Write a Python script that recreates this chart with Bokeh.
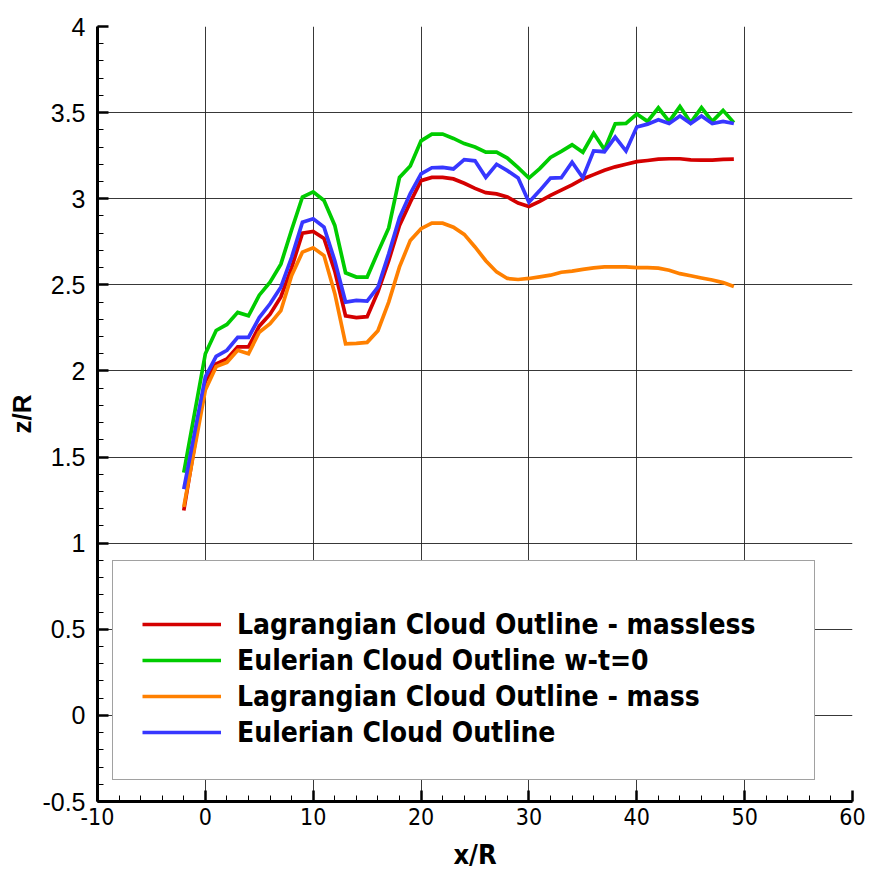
from bokeh.plotting import figure
from bokeh.models import Range1d, FixedTicker, Legend, LegendItem
from bokeh.embed import file_html
from bokeh.resources import INLINE
import numpy as np

# streamwise stations x/R
x_pos = [-2, 0, 1, 2, 3, 4, 5, 6, 7, 8, 9, 10, 11, 12, 13, 14, 15, 16, 17, 18, 19,
         20, 21, 22, 23, 24, 25, 26, 27, 28, 29, 30, 31, 32, 33, 34, 35, 36, 37, 38,
         39, 40, 41, 42, 43, 44, 45, 46, 47, 48, 49]

lag_massless = [1.19, 1.94, 2.04, 2.07, 2.14, 2.14, 2.26, 2.33, 2.43, 2.60, 2.80, 2.81,
                2.77, 2.58, 2.32, 2.31, 2.315, 2.46, 2.64, 2.845, 2.98, 3.105, 3.124,
                3.124, 3.115, 3.09, 3.06, 3.035, 3.028, 3.01, 2.975, 2.955, 2.985, 3.02,
                3.05, 3.08, 3.115, 3.14, 3.165, 3.185, 3.20, 3.215, 3.222, 3.23, 3.232,
                3.232, 3.226, 3.224, 3.224, 3.228, 3.23]

eul_wt0 = [1.41, 2.10, 2.235, 2.27, 2.34, 2.32, 2.44, 2.515, 2.62, 2.82, 3.01, 3.04,
           2.99, 2.845, 2.57, 2.545, 2.545, 2.69, 2.83, 3.124, 3.19, 3.336, 3.375,
           3.375, 3.35, 3.32, 3.30, 3.27, 3.27, 3.236, 3.18, 3.12, 3.175, 3.24, 3.275,
           3.313, 3.27, 3.38, 3.285, 3.435, 3.437, 3.492, 3.449, 3.528, 3.449, 3.535,
           3.442, 3.529, 3.449, 3.513, 3.442]

lag_mass = [1.21, 1.89, 2.025, 2.05, 2.12, 2.10, 2.225, 2.275, 2.35, 2.555, 2.69, 2.715,
            2.67, 2.45, 2.157, 2.16, 2.166, 2.234, 2.40, 2.604, 2.758, 2.826, 2.858,
            2.858, 2.835, 2.793, 2.72, 2.64, 2.575, 2.537, 2.531, 2.537, 2.546, 2.556,
            2.573, 2.58, 2.59, 2.598, 2.604, 2.604, 2.604, 2.60, 2.60, 2.597, 2.585,
            2.565, 2.553, 2.54, 2.528, 2.513, 2.49]

eul = [1.314, 1.965, 2.085, 2.12, 2.195, 2.195, 2.31, 2.39, 2.486, 2.66, 2.864, 2.884,
       2.835, 2.64, 2.40, 2.41, 2.405, 2.486, 2.68, 2.89, 3.03, 3.144, 3.18, 3.182,
       3.173, 3.227, 3.22, 3.124, 3.20, 3.163, 3.12, 2.98, 3.047, 3.12, 3.122, 3.212,
       3.122, 3.278, 3.273, 3.358, 3.277, 3.416, 3.433, 3.458, 3.437, 3.48, 3.437,
       3.48, 3.437, 3.449, 3.437]

series_names = ["Lagrangian Cloud Outline - massless",
                "Eulerian Cloud Outline w-t=0",
                "Lagrangian Cloud Outline - mass",
                "Eulerian Cloud Outline"]
series_colors = ["#d40000", "#00cc00", "#ff8000", "#3737ff"]

x_ticks = [-10, 0, 10, 20, 30, 40, 50, 60]
x_tick_labels = ["-10", "0", "10", "20", "30", "40", "50", "60"]
y_ticks = [-0.5, 0, 0.5, 1, 1.5, 2, 2.5, 3, 3.5, 4]
y_tick_labels = ["-0.5", "0", "0.5", "1", "1.5", "2", "2.5", "3", "3.5", "4"]

NARROW = "DejaVu Sans Condensed"

p = figure(frame_width=755, frame_height=775, output_backend="svg",
           toolbar_location=None, x_range=Range1d(-10, 60), y_range=Range1d(-0.5, 4),
           min_border_left=97, min_border_right=17, min_border_top=26,
           min_border_bottom=69)
p.outline_line_color = None
p.background_fill_color = "white"
p.border_fill_color = "white"

p.xaxis.ticker = FixedTicker(ticks=x_ticks,
                             minor_ticks=list(np.arange(-10, 60.01, 2.0)))
p.yaxis.ticker = FixedTicker(ticks=y_ticks,
                             minor_ticks=list(np.round(np.arange(-0.5, 4.001, 0.1), 2)))
p.xaxis.major_label_overrides = {t: s for t, s in zip(x_ticks, x_tick_labels)}
p.yaxis.major_label_overrides = {t: s for t, s in zip(y_ticks, y_tick_labels)}

for ax in (p.xaxis[0], p.yaxis[0]):
    ax.axis_line_width = 3
    ax.axis_line_color = "black"
    ax.major_tick_in = 11
    ax.major_tick_out = 0
    ax.minor_tick_in = 6
    ax.minor_tick_out = 0
    ax.major_tick_line_width = 2.5
    ax.minor_tick_line_width = 1
    ax.major_tick_line_color = "black"
    ax.minor_tick_line_color = "black"
    ax.major_label_text_color = "black"
    ax.axis_label_text_color = "black"
    ax.axis_label_text_font_style = "bold"

p.xaxis.axis_label = "x/R"
p.xaxis.axis_label_text_font = NARROW
p.xaxis.axis_label_text_font_size = "27px"
p.xaxis.axis_label_standoff = 11
p.xaxis.major_label_text_font = NARROW
p.xaxis.major_label_text_font_size = "23px"
p.xaxis.major_label_standoff = 6

p.yaxis.axis_label = "z/R"
p.yaxis.axis_label_text_font = "Liberation Sans"
p.yaxis.axis_label_text_font_size = "26px"
p.yaxis.axis_label_standoff = 2
p.yaxis.major_label_text_font = "Liberation Sans"
p.yaxis.major_label_text_font_size = "25px"
p.yaxis.major_label_standoff = 12

p.xgrid.ticker = FixedTicker(ticks=x_ticks)
p.ygrid.ticker = FixedTicker(ticks=y_ticks)
for g in (p.xgrid[0], p.ygrid[0]):
    g.grid_line_color = "#222222"
    g.grid_line_width = 1
    g.grid_line_alpha = 0.9

renderers = []
for ys, col in zip([lag_massless, eul_wt0, lag_mass, eul], series_colors):
    r = p.line(x_pos, ys, line_color=col, line_width=3.7, line_join="miter")
    renderers.append(r)

legend = Legend(
    items=[LegendItem(label=n, renderers=[r]) for n, r in zip(series_names, renderers)],
    location=(15, 21),
    title=" ",
    title_text_font_size="8px",
    title_standoff=7,
    padding=29,
    spacing=0,
    glyph_width=79,
    glyph_height=36,
    label_height=36,
    label_standoff=16,
    label_width=548,
    label_text_font=NARROW,
    label_text_font_style="bold",
    label_text_font_size="28px",
    label_text_color="black",
    border_line_color="#444444",
    border_line_width=1.5,
    background_fill_color="white",
    background_fill_alpha=1.0,
    margin=0,
)
p.add_layout(legend, "center")

open("out.html", "w").write(file_html(p, INLINE))
